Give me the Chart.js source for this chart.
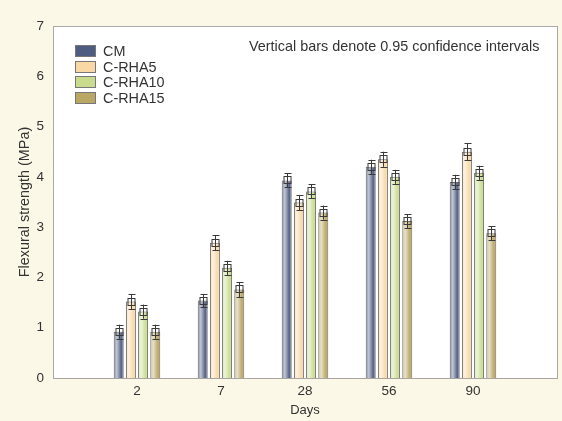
<!DOCTYPE html>
<html><head><meta charset="utf-8">
<script src="https://cdn.jsdelivr.net/npm/chart.js@4.4.0/dist/chart.umd.min.js"></script>
<style>
html,body{margin:0;padding:0;background:#fcf8e7;}
#wrap{width:562px;height:421px;position:relative;}
</style></head>
<body><div id="wrap"><canvas id="c" width="562" height="421"></canvas></div>
<script>
// ---- data ----
const days = ['2', '7', '28', '56', '90'];
const seriesNames = ['CM', 'C-RHA5', 'C-RHA10', 'C-RHA15'];
const cmValues     = [0.92, 1.54, 3.93, 4.20, 3.90];
const rha5Values   = [1.52, 2.69, 3.49, 4.35, 4.50];
const rha10Values  = [1.32, 2.19, 3.71, 4.00, 4.08];
const rha15Values  = [0.92, 1.76, 3.29, 3.12, 2.88];
const cmErr    = [0.14, 0.13, 0.14, 0.14, 0.14];
const rha5Err  = [0.15, 0.15, 0.15, 0.15, 0.17];
const rha10Err = [0.14, 0.14, 0.14, 0.14, 0.14];
const rha15Err = [0.14, 0.15, 0.14, 0.14, 0.14];
const yTicks = [0, 1, 2, 3, 4, 5, 6, 7];
const colors = ['#4f5c82', '#f9d8a6', '#c9dc8e', '#bba764'];

const labels = [''].concat(days, ['']);
const pad = a => [null].concat(a, [null]);
const values = [cmValues, rha5Values, rha10Values, rha15Values];
const errs = [cmErr, rha5Err, rha10Err, rha15Err];
const FONT = '"Liberation Sans", Arial, sans-serif';

function mix(hex, t) {
  const r = parseInt(hex.slice(1,3),16), g = parseInt(hex.slice(3,5),16), b = parseInt(hex.slice(5,7),16);
  const f = c => Math.round(c + (255 - c) * t);
  return `rgb(${f(r)},${f(g)},${f(b)})`;
}

const gradientPlugin = {
  id: 'grad',
  beforeDatasetsDraw(chart) {
    const ctx = chart.ctx;
    chart.data.datasets.forEach((ds, di) => {
      const meta = chart.getDatasetMeta(di);
      meta.data.forEach(el => {
        if (el.skip || el.x == null || isNaN(el.x)) return;
        const w = el.width;
        const g = ctx.createLinearGradient(el.x - w / 2, 0, el.x + w / 2, 0);
        const c = colors[di];
        g.addColorStop(0, mix(c, 0.3));
        g.addColorStop(0.3, mix(c, 0.65));
        g.addColorStop(0.75, mix(c, 0.05));
        g.addColorStop(1, mix(c, 0.2));
        el.options = Object.assign({}, el.options, { backgroundColor: g });
      });
    });
  }
};

const errorPlugin = {
  id: 'err',
  afterDatasetsDraw(chart) {
    const ctx = chart.ctx, y = chart.scales.y;
    ctx.save();
    ctx.strokeStyle = '#3a3a3a';
    ctx.lineWidth = 1;
    chart.data.datasets.forEach((ds, di) => {
      const meta = chart.getDatasetMeta(di);
      meta.data.forEach((el, i) => {
        const v = ds.data[i];
        if (v == null) return;
        const e = ds.errs[i];
        const x = Math.round(el.x) + 0.5;
        const yt = y.getPixelForValue(v + e), yb = y.getPixelForValue(v - e), ym = y.getPixelForValue(v);
        ctx.beginPath();
        ctx.moveTo(x, yt); ctx.lineTo(x, yb);
        ctx.moveTo(x - 3, Math.round(yt) + 0.5); ctx.lineTo(x + 4, Math.round(yt) + 0.5);
        ctx.moveTo(x - 3, Math.round(yb) + 0.5); ctx.lineTo(x + 4, Math.round(yb) + 0.5);
        ctx.stroke();
        ctx.strokeRect(x - 3.5, Math.round(ym) - 3.5, 7, 7);
      });
    });
    ctx.restore();
  }
};

const framePlugin = {
  id: 'frame',
  beforeDraw(chart) {
    const a = chart.chartArea, ctx = chart.ctx;
    ctx.save();
    ctx.fillStyle = '#ffffff';
    ctx.fillRect(a.left, a.top, a.right - a.left, a.bottom - a.top);
    ctx.restore();
  },
  afterDraw(chart) {
    const a = chart.chartArea, ctx = chart.ctx;
    ctx.save();
    ctx.strokeStyle = '#555';
    ctx.lineWidth = 1;
    ctx.setLineDash([1, 1]);
    ctx.strokeRect(Math.round(a.left) + 0.5, Math.round(a.top) + 0.5, Math.round(a.right - a.left), Math.round(a.bottom - a.top));
    ctx.setLineDash([]);
    // legend
    ctx.font = '14.4px ' + FONT;
    ctx.textBaseline = 'middle';
    chart.data.datasets.forEach((ds, di) => {
      const cy = 51 + di * 15.7;
      const top = Math.round(cy - 6);
      ctx.fillStyle = colors[di];
      ctx.fillRect(75, top, 21, 12);
      ctx.strokeStyle = '#777';
      ctx.strokeRect(75.5, top + 0.5, 20, 11);
      ctx.fillStyle = '#333';
      ctx.fillText(ds.label, 103, cy + 1);
    });
    // note
    ctx.font = '14.4px ' + FONT;
    ctx.fillStyle = '#333';
    ctx.fillText('Vertical bars denote 0.95 confidence intervals', 249, 47);
    ctx.restore();
  }
};

new Chart(document.getElementById('c'), {
  type: 'bar',
  data: {
    labels: labels,
    datasets: seriesNames.map((n, i) => ({
      label: n,
      data: pad(values[i]),
      errs: pad(errs[i]),
      backgroundColor: colors[i],
      borderColor: '#6a6a6a',
      borderWidth: 1,
      barPercentage: 0.82,
      categoryPercentage: 0.58
    }))
  },
  options: {
    responsive: false,
    animation: false,
    events: [],
    layout: { padding: { left: 0, right: 4, top: 26, bottom: 0 } },
    plugins: { legend: { display: false }, tooltip: { enabled: false } },
    scales: {
      x: {
        offset: false,
        grid: { display: false, drawTicks: false },
        border: { display: false },
        ticks: { padding: 5, color: '#333', font: { size: 13.5, family: FONT }, maxRotation: 0, autoSkip: false },
        title: { display: true, text: 'Days', color: '#333', padding: { top: 0, bottom: 3 }, font: { size: 13, family: FONT } },
        afterFit(s) { s.height = 43; }
      },
      y: {
        min: 0, max: 7,
        afterBuildTicks(s) { s.ticks = yTicks.map(v => ({ value: v })); },
        grid: { display: false, drawTicks: false },
        border: { display: false },
        ticks: { padding: 9, color: '#333', font: { size: 13.5, family: FONT } },
        title: { display: true, text: 'Flexural strength (MPa)', color: '#333', padding: { top: 16, bottom: 0 }, font: { size: 14.4, family: FONT } },
        afterFit(s) { s.width = 53; }
      }
    }
  },
  plugins: [framePlugin, gradientPlugin, errorPlugin]
});
</script>
</body></html>
